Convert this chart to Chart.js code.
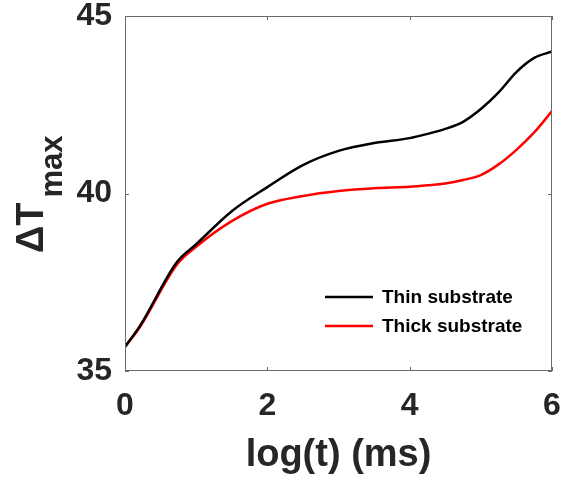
<!DOCTYPE html>
<html>
<head>
<meta charset="utf-8">
<script src="https://cdn.jsdelivr.net/npm/chart.js@4"></script>
<style>
  html, body { margin: 0; padding: 0; background: #fff; }
  #wrap { width: 563px; height: 482px; }
</style>
</head>
<body>
<div id="wrap"><canvas id="tempChart"></canvas></div>
<script>
// log(t) sample positions and peak temperature rise for each substrate
const logT = [0, 0.21, 0.73, 1, 1.5, 2, 2.5, 3, 3.5, 4, 4.25, 4.5, 4.75, 5, 5.25, 5.5, 5.75, 6];
const thinDT = [35.68, 36.27, 38.07, 38.57, 39.5, 40.18, 40.8, 41.2, 41.42, 41.56, 41.68, 41.82, 42.02, 42.38, 42.85, 43.42, 43.82, 44.0];
const thickDT = [35.68, 36.24, 38.0, 38.5, 39.22, 39.71, 39.93, 40.07, 40.15, 40.19, 40.23, 40.28, 40.38, 40.52, 40.82, 41.23, 41.72, 42.32];
const xTicks = [0, 2, 4, 6];
const yTicks = [35, 40, 45];

const FONT = 'Liberation Sans, Arial, sans-serif';
const TEXT = '#262626';

function toPoints(ys) {
    return logT.map((x, i) => ({ x: x, y: ys[i] }));
}

// box frame, inward ticks, rotated y title and an in-plot legend
const framePlugin = {
    id: 'frame',
    afterDraw(chart) {
        const ctx = chart.ctx;
        const a = chart.chartArea;
        const xs = chart.scales.x;
        const ys = chart.scales.y;
        ctx.save();
        ctx.strokeStyle = '#6b6b6b';
        ctx.lineWidth = 1;
        ctx.strokeRect(a.left + 0.5, a.top + 0.5, a.right - a.left - 1, a.bottom - a.top - 1);
        ctx.beginPath();
        xTicks.forEach(v => {
            const px = Math.round(xs.getPixelForValue(v)) + 0.5;
            ctx.moveTo(px, a.bottom); ctx.lineTo(px, a.bottom - 4);
            ctx.moveTo(px, a.top); ctx.lineTo(px, a.top + 4);
        });
        yTicks.forEach(v => {
            const py = Math.round(ys.getPixelForValue(v)) + 0.5;
            ctx.moveTo(a.left, py); ctx.lineTo(a.left + 4, py);
            ctx.moveTo(a.right, py); ctx.lineTo(a.right - 4, py);
        });
        ctx.stroke();

        // ΔT_max
        ctx.fillStyle = TEXT;
        ctx.translate(43, 253);
        ctx.rotate(-Math.PI / 2);
        ctx.textAlign = 'left';
        ctx.textBaseline = 'alphabetic';
        ctx.font = 'bold 38px ' + FONT;
        ctx.fillText('ΔT', 0, 0);
        const w = ctx.measureText('ΔT').width;
        ctx.font = 'bold 31px ' + FONT;
        ctx.fillText('max', w + 5, 19);
        ctx.restore();

        // legend
        ctx.save();
        ctx.font = 'bold 19px ' + FONT;
        ctx.textBaseline = 'middle';
        ctx.fillStyle = '#000';
        chart.data.datasets.forEach((ds, i) => {
            const y = 297 + i * 29;
            ctx.strokeStyle = ds.borderColor;
            ctx.lineWidth = 2.5;
            ctx.beginPath();
            ctx.moveTo(325, y);
            ctx.lineTo(373, y);
            ctx.stroke();
            ctx.fillText(ds.label, 382, y + 1);
        });
        ctx.restore();
    }
};

new Chart(document.getElementById('tempChart'), {
    type: 'line',
    data: {
        datasets: [{
            label: 'Thin substrate',
            data: toPoints(thinDT),
            borderColor: '#000000',
            borderWidth: 2.5,
            pointRadius: 0,
            cubicInterpolationMode: 'monotone'
        }, {
            label: 'Thick substrate',
            data: toPoints(thickDT),
            borderColor: '#ff0000',
            borderWidth: 2.5,
            pointRadius: 0,
            cubicInterpolationMode: 'monotone'
        }]
    },
    options: {
        responsive: true,
        maintainAspectRatio: false,
        animation: false,
        layout: { padding: { top: 16, right: 11, left: 0, bottom: 0 } },
        plugins: {
            legend: { display: false },
            tooltip: { enabled: false }
        },
        scales: {
            x: {
                type: 'linear',
                min: 0,
                max: 6,
                afterFit: s => { s.height = 111; s.paddingLeft = 0; s.paddingRight = 0; },
                afterBuildTicks: s => { s.ticks = xTicks.map(v => ({ value: v })); },
                grid: { display: false, drawTicks: false },
                border: { display: false },
                ticks: {
                    color: TEXT,
                    padding: 16,
                    maxRotation: 0,
                    font: { family: FONT, size: 32, weight: 'bold' }
                },
                title: {
                    display: true,
                    text: 'log(t) (ms)',
                    color: TEXT,
                    padding: { top: 0, bottom: 4 },
                    font: { family: FONT, size: 38, weight: 'bold' }
                }
            },
            y: {
                min: 35,
                max: 45,
                afterFit: s => { s.width = 125; s.paddingTop = 0; s.paddingBottom = 0; },
                afterBuildTicks: s => { s.ticks = yTicks.map(v => ({ value: v })); },
                grid: { display: false, drawTicks: false },
                border: { display: false },
                ticks: {
                    color: TEXT,
                    padding: 13,
                    font: { family: FONT, size: 32, weight: 'bold' }
                }
            }
        }
    },
    plugins: [framePlugin]
});
</script>
</body>
</html>
